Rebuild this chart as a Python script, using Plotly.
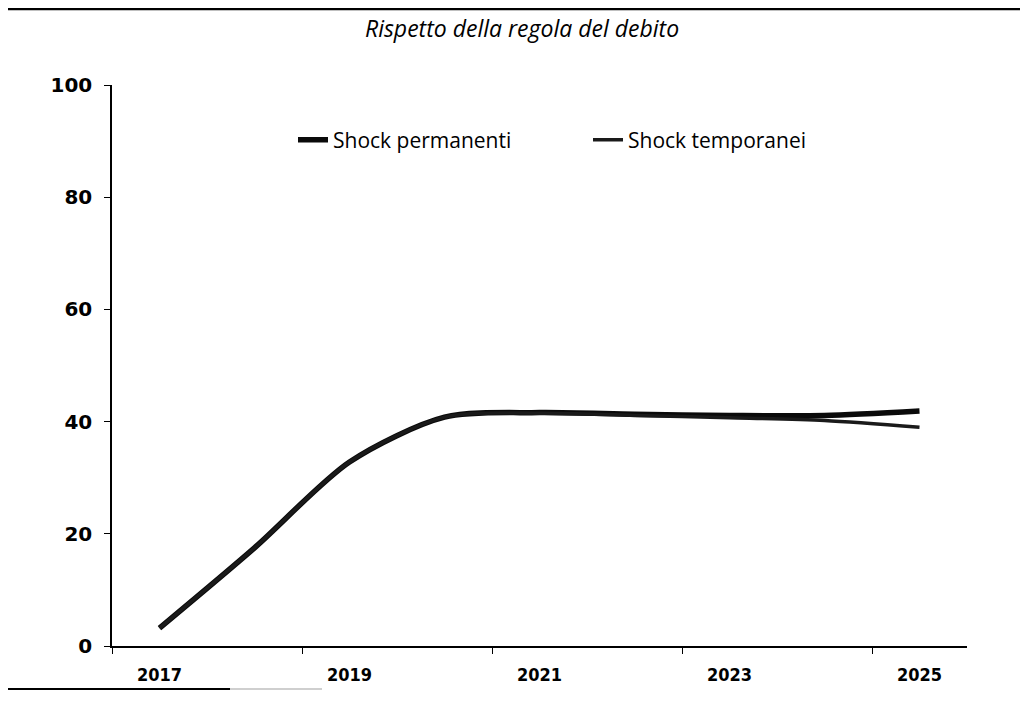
import plotly.graph_objects as go

# --- data -------------------------------------------------------------
years = [2017, 2018, 2019, 2020, 2021, 2022, 2023, 2024, 2025]
shock_permanenti = [3.2, 17.5, 32.8, 40.8, 41.6, 41.3, 41.1, 41.1, 41.9]
shock_temporanei = [3.2, 17.5, 32.8, 40.8, 41.5, 41.1, 40.7, 40.2, 39.0]
label_years = [2017, 2019, 2021, 2023, 2025]
tick_bounds = [2016.5, 2018.5, 2020.5, 2022.5, 2024.5]
y_ticks = [0, 20, 40, 60, 80, 100]

title_text = "Rispetto della regola del debito"

# page body adds an 8px margin, so the figure is sized/placed to compensate
OFF = 8
W, H = 1020, 708
L, T = 112 - OFF, 85 - OFF
R = W - (967 - OFF)
B = H - (646 - OFF)
pw, ph = W - L - R, H - T - B


def px(x):
    # screen x -> paper fraction
    return (x - OFF - L) / pw


def py(y):
    # screen y -> paper fraction
    return (H - B - (y - OFF)) / ph


fig = go.Figure()
fig.add_trace(
    go.Scatter(
        x=years,
        y=shock_permanenti,
        mode="lines",
        line=dict(color="#0a0a0a", width=5.5, shape="spline", smoothing=0.8),
        name="Shock permanenti",
    )
)
fig.add_trace(
    go.Scatter(
        x=years,
        y=shock_temporanei,
        mode="lines",
        line=dict(color="#1a1a1a", width=3.5, shape="spline", smoothing=0.8),
        name="Shock temporanei",
    )
)
# invisible trace to carry the tick marks between label pairs
fig.add_trace(
    go.Scatter(x=tick_bounds, y=[None] * len(tick_bounds), xaxis="x2",
               showlegend=False, hoverinfo="skip")
)

fig.update_layout(
    width=W,
    height=H,
    autosize=False,
    margin=dict(l=L, r=R, t=T, b=B),
    paper_bgcolor="white",
    plot_bgcolor="white",
    font=dict(family="Open Sans", color="black"),
    legend=dict(
        orientation="h",
        x=px(293),
        y=py(140),
        xanchor="left",
        yanchor="middle",
        font=dict(family="Open Sans", size=21, color="black"),
        entrywidth=250,
        bgcolor="rgba(0,0,0,0)",
    ),
    xaxis=dict(
        range=[2016.5, 2025.5],
        tickvals=label_years,
        ticktext=[f"<b>{y}</b>" for y in label_years],
        ticks="",
        ticklabelstandoff=12,
        tickfont=dict(family="DejaVu Sans Condensed, DejaVu Sans", size=18, color="black"),
        showline=True,
        linecolor="black",
        linewidth=1.5,
        showgrid=False,
        zeroline=False,
    ),
    xaxis2=dict(
        overlaying="x",
        anchor="y",
        side="bottom",
        range=[2016.5, 2025.5],
        tickvals=tick_bounds,
        ticks="outside",
        ticklen=7,
        tickwidth=1.3,
        tickcolor="black",
        showticklabels=False,
        showgrid=False,
        zeroline=False,
    ),
    yaxis=dict(
        range=[0, 100],
        tickvals=y_ticks,
        ticktext=[f"<b>{v}</b>" for v in y_ticks],
        ticks="outside",
        ticklen=6,
        tickwidth=1.3,
        tickcolor="black",
        ticklabelstandoff=8,
        tickfont=dict(family="DejaVu Sans", size=20, color="black"),
        showline=True,
        linecolor="black",
        linewidth=1.5,
        showgrid=False,
        zeroline=False,
    ),
)

fig.add_annotation(
    text=f"<i>{title_text}</i>",
    xref="paper",
    yref="paper",
    x=px(522),
    y=py(28),
    xanchor="center",
    yanchor="middle",
    showarrow=False,
    font=dict(family="Open Sans", size=23, color="black"),
)

# page rules from the scanned document
fig.add_shape(type="line", xref="paper", yref="paper",
              x0=px(8), x1=px(1028), y0=py(9), y1=py(9),
              line=dict(color="black", width=2.5))
fig.add_shape(type="line", xref="paper", yref="paper",
              x0=px(8), x1=px(230), y0=py(689), y1=py(689),
              line=dict(color="black", width=2))
fig.add_shape(type="line", xref="paper", yref="paper",
              x0=px(230), x1=px(322), y0=py(689), y1=py(689),
              line=dict(color="#cfcfcf", width=2))

fig.write_html("out.html")
